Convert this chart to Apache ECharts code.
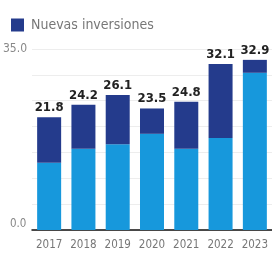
<!DOCTYPE html>
<html>
<head>
<meta charset="utf-8">
<script src="https://cdn.jsdelivr.net/npm/echarts@6/dist/echarts.min.js"></script>
<style>
  html, body { margin: 0; padding: 0; background: #fff; }
  #chart { width: 272px; height: 255px; }
</style>
</head>
<body>
<div id="chart"></div>
<script>
// años
var years = ['2017', '2018', '2019', '2020', '2021', '2022', '2023']
// parte clara (inversión previa)
var baseValues = [13.0, 15.7, 16.6, 18.6, 15.7, 17.8, 30.4]
// nuevas inversiones
var newValues = [8.8, 8.5, 9.5, 4.9, 9.1, 14.3, 2.5]
// totales mostrados arriba de cada barra
var totals = [21.8, 24.2, 26.1, 23.5, 24.8, 32.1, 32.9]
var yTicks = [0, 35]

var font = '"Liberation Sans Narrow", "DejaVu Sans Condensed", Roboto, sans-serif'

var chart = echarts.init(document.getElementById('chart'))
chart.setOption({
  animation: false,
  textStyle: { fontFamily: font },
  legend: {
    left: 6,
    top: 13,
    itemWidth: 13,
    itemHeight: 13,
    itemGap: 10,
    data: [{ name: 'Nuevas inversiones', icon: 'rect' }],
    textStyle: { color: '#777', fontSize: 14, fontFamily: font, padding: [0, 0, 0, 2] }
  },
  grid: { left: 29, right: -3, top: 49, bottom: 25 },
  xAxis: {
    type: 'category',
    data: years,
    axisTick: { show: false },
    axisLine: { lineStyle: { color: '#111', width: 1.5 } },
    axisLabel: { color: '#777', fontSize: 11.5, margin: 9, interval: 0, fontFamily: font }
  },
  yAxis: {
    type: 'value',
    min: 0,
    max: 35,
    interval: 5,
    axisLabel: {
      color: '#888',
      fontSize: 12,
      fontFamily: font,
      align: 'left',
      margin: 29,
      formatter: function (v) {
        if (v === 0) return '{low|' + v.toFixed(1) + '}'
        return yTicks.indexOf(v) >= 0 ? v.toFixed(1) : ''
      },
      rich: {
        low: { color: '#888', fontSize: 11.5, fontFamily: font, padding: [0, 0, 12, 7] }
      }
    },
    splitLine: { lineStyle: { color: '#ededed' } }
  },
  series: [
    {
      name: 'Base',
      type: 'bar',
      stack: 'total',
      barWidth: 24,
      data: baseValues,
      itemStyle: { color: '#1798dc' }
    },
    {
      name: 'Nuevas inversiones',
      type: 'bar',
      stack: 'total',
      barWidth: 24,
      data: newValues,
      itemStyle: { color: '#243b8c' },
      label: {
        show: true,
        position: 'top',
        distance: 3,
        color: '#222',
        fontWeight: 'bold',
        fontSize: 13,
        fontFamily: font,
        formatter: function (p) { return totals[p.dataIndex].toFixed(1) }
      }
    }
  ]
})
</script>
</body>
</html>
